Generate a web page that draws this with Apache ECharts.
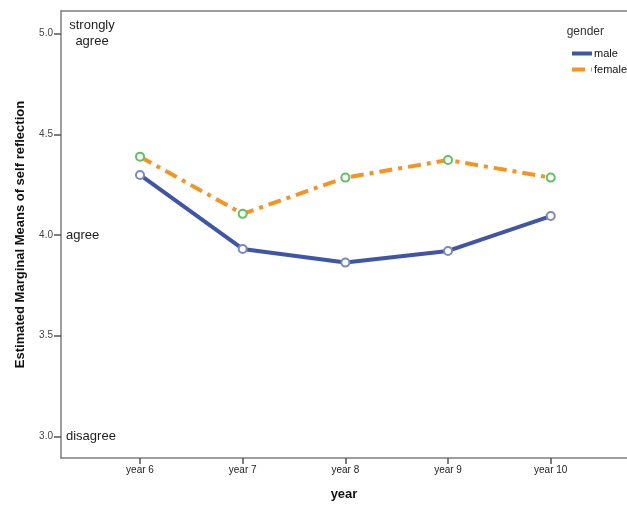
<!DOCTYPE html>
<html>
<head>
<meta charset="utf-8">
<script src="https://cdn.jsdelivr.net/npm/echarts@6/dist/echarts.min.js"></script>
<style>html,body{margin:0;padding:0;background:#fff}#c{width:627px;height:506px}</style>
</head>
<body>
<div id="c"></div>
<script>
const categories = ['year 6', 'year 7', 'year 8', 'year 9', 'year 10'];
const yearNums = [6, 7, 8, 9, 10];
const male = [4.298, 3.931, 3.863, 3.921, 4.094];
const female = [4.389, 4.105, 4.285, 4.372, 4.285];
const yTicks = [3.0, 3.5, 4.0, 4.5, 5.0];
const anchorValues = [3, 4, 5];
const anchorLabels = ['disagree', 'agree', 'strongly\nagree'];

const chart = echarts.init(document.getElementById('c'));
const FONT = 'Liberation Sans, Arial, sans-serif';
const X_MIN = 5.2306, X_MAX = 10.743;
chart.setOption({
  animation: false,
  textStyle: { fontFamily: FONT },
  title: {
    text: 'gender', right: 18, top: 21,
    textStyle: { fontSize: 12, fontWeight: 'normal', color: '#333', fontFamily: FONT }
  },
  legend: {
    orient: 'vertical', left: 565, top: 43, itemWidth: 20, itemHeight: 8, itemGap: 5,
    textStyle: { fontSize: 11, color: '#111', fontFamily: FONT, padding: [0,0,0,-3] },
    data: [
      { name: 'male', itemStyle: { opacity: 0 }, lineStyle: { width: 4, color: '#3f55a7' } },
      { name: 'female', itemStyle: { opacity: 0 }, lineStyle: { width: 4, color: '#f7931e' } }
    ]
  },
  grid: { left: 61, top: 11, right: 0, bottom: 46 },
  xAxis: [
    {
      type: 'value', min: X_MIN, max: X_MAX,
      name: 'year', nameLocation: 'middle', nameGap: 30,
      nameTextStyle: { fontSize: 13, fontWeight: 'bold', color: '#111', fontFamily: FONT },
      axisLine: { lineStyle: { color: '#7f7f7f', width: 1.5 } },
      axisTick: { show: true, length: 6, customValues: yearNums, lineStyle: { color: '#555', width: 1.5 } },
      axisLabel: {
        customValues: yearNums, margin: 7, fontSize: 10, color: '#222', fontFamily: FONT,
        formatter: v => categories[yearNums.indexOf(Math.round(v))]
      },
      splitLine: { show: false }
    },
    {
      type: 'value', min: X_MIN, max: X_MAX, position: 'top',
      axisLine: { show: true, lineStyle: { color: '#7f7f7f', width: 1.5 } },
      axisTick: { show: false }, axisLabel: { show: false }, splitLine: { show: false }
    }
  ],
  yAxis: [
    {
      type: 'value', min: 2.893, max: 5.112,
      name: 'Estimated Marginal Means of self reflection', nameLocation: 'middle', nameGap: 34,
      nameTextStyle: { fontSize: 13, fontWeight: 'bold', color: '#111', fontFamily: FONT },
      axisLine: { show: true, lineStyle: { color: '#7f7f7f', width: 1.5 } },
      axisTick: { show: true, length: 7, customValues: yTicks, lineStyle: { color: '#555', width: 1.5 } },
      axisLabel: { customValues: yTicks, margin: 8, fontSize: 10, color: '#444', fontFamily: FONT, formatter: v => v.toFixed(1) },
      splitLine: { show: false }
    },
    {
      type: 'value', min: 2.893, max: 5.112, position: 'left',
      axisLine: { show: false }, axisTick: { show: false }, splitLine: { show: false },
      axisLabel: {
        inside: true, margin: 5, customValues: anchorValues, fontSize: 13, color: '#222', fontFamily: FONT,
        formatter: v => {
          const t = anchorLabels[anchorValues.indexOf(Math.round(v))];
          return t.indexOf('\n') >= 0 ? t.split('\n').map(s => '{c|' + s + '}').join('\n') : t;
        },
        rich: { c: { width: 52, align: 'center', fontSize: 13, color: '#222', fontFamily: FONT, lineHeight: 16 } }
      }
    }
  ],
  series: [
    {
      name: 'male', type: 'line', data: yearNums.map((x, i) => [x, male[i]]),
      symbol: 'emptyCircle', symbolSize: 8,
      lineStyle: { color: '#3f55a7', width: 4 },
      itemStyle: { color: '#7b88c4', borderWidth: 1.5 }
    },
    {
      name: 'female', type: 'line', data: yearNums.map((x, i) => [x, female[i]]),
      symbol: 'emptyCircle', symbolSize: 8,
      lineStyle: { color: '#f7931e', width: 4, type: [13, 6, 4, 6] },
      itemStyle: { color: '#5fc35f', borderWidth: 1.5 }
    }
  ]
});
</script>
</body>
</html>
